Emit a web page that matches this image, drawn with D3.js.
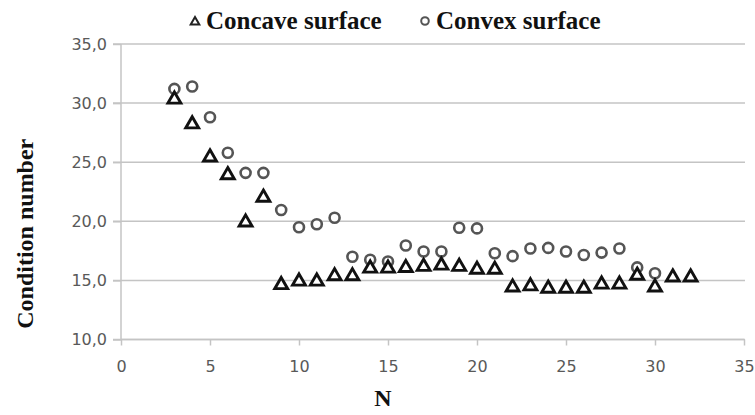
<!DOCTYPE html>
<html>
<head>
<meta charset="utf-8">
<script src="https://cdn.jsdelivr.net/npm/d3@7"></script>
<style>
  body { margin: 0; background: #fff; }
  svg { display: block; }
</style>
</head>
<body>
<svg id="chart" width="755" height="415"></svg>
<script>
// ---- data
var nConcave = [3,4,5,6,7,8,9,10,11,12,13,14,15,16,17,18,19,20,21,22,23,24,25,26,27,28,29,30,31,32];
var concave  = [30.4,28.3,25.5,24.0,20.0,22.1,14.7,15.0,15.0,15.45,15.45,16.1,16.1,16.15,16.25,16.35,16.25,16.0,16.0,14.5,14.6,14.4,14.4,14.4,14.75,14.75,15.5,14.5,15.35,15.35];
var nConvex  = [3,4,5,6,7,8,9,10,11,12,13,14,15,16,17,18,19,20,21,22,23,24,25,26,27,28,29,30];
var convex   = [31.2,31.4,28.8,25.8,24.1,24.1,20.95,19.5,19.75,20.3,17.0,16.75,16.6,17.95,17.45,17.45,19.45,19.4,17.3,17.05,17.7,17.75,17.45,17.15,17.35,17.7,16.1,15.6];
var xTicks = [0,5,10,15,20,25,30,35];
var yTicks = [10,15,20,25,30,35];
var legendLabels = ["Concave surface","Convex surface"];

// ---- geometry (plot box)
var pLeft = 121, pRight = 744, pTop = 44, pBottom = 339.5;
var svg = d3.select("#chart");

var x = d3.scaleLinear().domain([0,35]).range([pLeft,pRight]);
var y = d3.scaleLinear().domain([10,35]).range([pBottom,pTop]);

var gridColor = "#c4c4c4",
    tickColor = "#595959",
    serif = "'Liberation Serif','Times New Roman',serif",
    sans = "'DejaVu Sans',sans-serif";

// grid lines
svg.append("g")
  .selectAll("line")
  .data(yTicks)
  .enter().append("line")
    .attr("x1",pLeft-8)
    .attr("x2",pRight+1)
    .attr("y1",function(d){ return y(d); })
    .attr("y2",function(d){ return y(d); })
    .attr("stroke",gridColor)
    .attr("stroke-width",1.5);

// y axis
var gy = svg.append("g")
  .attr("transform","translate("+pLeft+",0)")
  .call(d3.axisLeft(y).tickValues(yTicks).tickSize(8).tickPadding(6)
    .tickFormat(function(d){ return d.toFixed(1).replace(".",","); }));
gy.select(".domain").attr("stroke",gridColor).attr("stroke-width",1.5).attr("d","M0,"+pTop+"V"+pBottom);
gy.selectAll(".tick line").attr("stroke",gridColor).attr("stroke-width",1.5);
gy.selectAll("text").attr("fill",tickColor).attr("font-family",sans).attr("font-size",16);

// x axis
var gx = svg.append("g")
  .attr("transform","translate(0,"+pBottom+")")
  .call(d3.axisBottom(x).tickValues(xTicks).tickSize(6).tickPadding(15));
gx.select(".domain").attr("stroke",gridColor).attr("stroke-width",1.5).attr("d","M"+pLeft+",0H"+pRight);
gx.selectAll(".tick line").attr("stroke",gridColor).attr("stroke-width",1.5);
gx.selectAll("text").attr("fill",tickColor).attr("font-family",sans).attr("font-size",16);

// triangle symbols
var tri = d3.symbol().type(d3.symbolTriangle).size(72);
var triSmall = d3.symbol().type(d3.symbolTriangle).size(32);

// convex series (circles)
svg.append("g")
  .selectAll("circle")
  .data(convex)
  .enter().append("circle")
    .attr("cx",function(d,i){ return x(nConvex[i]); })
    .attr("cy",function(d){ return y(d); })
    .attr("r",5)
    .attr("fill","#fff")
    .attr("stroke","#555")
    .attr("stroke-width",2.6);

// concave series (triangles)
svg.append("g")
  .selectAll("path")
  .data(concave)
  .enter().append("path")
    .attr("d",tri)
    .attr("transform",function(d,i){ return "translate("+x(nConcave[i])+","+(y(d)+1)+")"; })
    .attr("fill","#fff")
    .attr("stroke","#111")
    .attr("stroke-width",2.9);

// legend
var lg = svg.append("g");
lg.append("path")
  .attr("d",triSmall)
  .attr("transform","translate(195,22)")
  .attr("fill","#fff").attr("stroke","#222").attr("stroke-width",2);
lg.append("text")
  .attr("x",206).attr("y",29)
  .attr("font-family",serif).attr("font-weight","bold").attr("font-size",25)
  .attr("fill","#111")
  .text(legendLabels[0]);
lg.append("circle")
  .attr("cx",425).attr("cy",21).attr("r",3.8)
  .attr("fill","#fff").attr("stroke","#555").attr("stroke-width",2);
lg.append("text")
  .attr("x",436).attr("y",29)
  .attr("font-family",serif).attr("font-weight","bold").attr("font-size",25)
  .attr("fill","#111")
  .text(legendLabels[1]);

// axis titles
svg.append("text")
  .attr("transform","translate(33,"+((pTop+pBottom)/2+42)+") rotate(-90)")
  .attr("text-anchor","middle")
  .attr("font-family",serif).attr("font-weight","bold").attr("font-size",24)
  .attr("fill","#111")
  .text("Condition number");
svg.append("text")
  .attr("x",383).attr("y",406)
  .attr("text-anchor","middle")
  .attr("font-family",serif).attr("font-weight","bold").attr("font-size",24)
  .attr("fill","#111")
  .text("N");
</script>
</body>
</html>
